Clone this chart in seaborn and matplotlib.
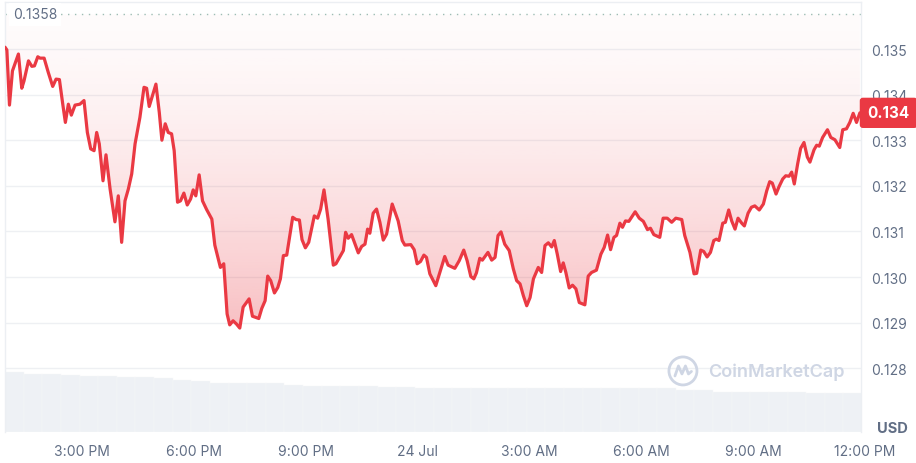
import matplotlib
matplotlib.use('Agg')
import matplotlib.pyplot as plt
import matplotlib.transforms as mtransforms
from matplotlib.colors import to_rgb
from matplotlib.patches import PathPatch, Ellipse
import seaborn as sns
import numpy as np
import pandas as pd

# price, hours counted from 23 Jul 00:00
hours = [
    12.93, 12.98, 13.05, 13.13, 13.29, 13.38, 13.44, 13.56, 13.65, 13.72,
    13.81, 13.87, 13.98, 14.09, 14.21, 14.30, 14.39, 14.48, 14.55, 14.63,
    14.71, 14.81, 14.94, 15.05, 15.14, 15.23, 15.32, 15.39, 15.46, 15.56,
    15.64, 15.75, 15.88, 15.97, 16.06, 16.15, 16.24, 16.33, 16.42, 16.55,
    16.66, 16.73, 16.80, 16.98, 17.07, 17.14, 17.23, 17.31, 17.40, 17.47,
    17.56, 17.64, 17.73, 17.82, 17.91, 17.98, 18.05, 18.14, 18.23, 18.34,
    18.48, 18.56, 18.65, 18.71, 18.80, 18.89, 18.96, 19.05, 19.14, 19.23,
    19.32, 19.48, 19.57, 19.74, 19.82, 19.91, 19.98, 20.06, 20.16, 20.25,
    20.32, 20.40, 20.49, 20.65, 20.74, 20.83, 20.90, 20.99, 21.08, 21.23,
    21.32, 21.40, 21.49, 21.60, 21.74, 21.81, 21.92, 22.01, 22.07, 22.14,
    22.23, 22.41, 22.50, 22.59, 22.66, 22.72, 22.81, 22.90, 22.99, 23.08,
    23.17, 23.32, 23.48, 23.59, 23.66, 23.82, 23.91, 23.99, 24.08, 24.17,
    24.24, 24.33, 24.49, 24.60, 24.73, 24.82, 25.00, 25.12, 25.24, 25.33,
    25.43, 25.51, 25.58, 25.67, 25.74, 25.89, 25.99, 26.08, 26.16, 26.24,
    26.34, 26.46, 26.57, 26.66, 26.75, 26.84, 26.93, 27.02, 27.11, 27.24,
    27.33, 27.42, 27.51, 27.60, 27.67, 27.75, 27.84, 27.91, 27.98, 28.07,
    28.16, 28.25, 28.34, 28.49, 28.58, 28.67, 28.80, 28.92, 29.01, 29.10,
    29.18, 29.27, 29.34, 29.43, 29.50, 29.58, 29.67, 29.84, 29.95, 30.06,
    30.17, 30.25, 30.34, 30.50, 30.59, 30.70, 30.82, 30.93, 31.09, 31.17,
    31.31, 31.42, 31.49, 31.60, 31.68, 31.77, 31.86, 31.95, 32.02, 32.09,
    32.19, 32.26, 32.35, 32.43, 32.52, 32.60, 32.70, 32.77, 32.87, 32.96,
    33.05, 33.17, 33.28, 33.37, 33.45, 33.52, 33.62, 33.70, 33.80, 33.88,
    33.97, 34.04, 34.11, 34.20, 34.28, 34.37, 34.46, 34.53, 34.64, 34.71,
    34.78, 34.87, 35.00, 35.09, 35.20, 35.33, 35.41, 35.51, 35.60, 35.69,
    35.78, 35.87,
]
price = [
    0.13504, 0.13498, 0.13377, 0.13452, 0.13489, 0.13414, 0.13430, 0.13474, 0.13462, 0.13463,
    0.13483, 0.13480, 0.13480, 0.13449, 0.13418, 0.13434, 0.13433, 0.13379, 0.13339, 0.13379,
    0.13355, 0.13377, 0.13379, 0.13387, 0.13317, 0.13281, 0.13277, 0.13317, 0.13292, 0.13211,
    0.13268, 0.13193, 0.13121, 0.13178, 0.13076, 0.13167, 0.13193, 0.13226, 0.13292, 0.13350,
    0.13416, 0.13414, 0.13374, 0.13423, 0.13361, 0.13300, 0.13336, 0.13317, 0.13314, 0.13277,
    0.13164, 0.13167, 0.13184, 0.13158, 0.13171, 0.13191, 0.13178, 0.13224, 0.13167, 0.13148,
    0.13127, 0.13070, 0.13040, 0.13021, 0.13029, 0.12919, 0.12895, 0.12904, 0.12897, 0.12888,
    0.12934, 0.12952, 0.12914, 0.12909, 0.12931, 0.12948, 0.13002, 0.12992, 0.12965, 0.12977,
    0.12996, 0.13047, 0.13048, 0.13131, 0.13126, 0.13125, 0.13082, 0.13064, 0.13076, 0.13134,
    0.13129, 0.13149, 0.13191, 0.13127, 0.13026, 0.13029, 0.13045, 0.13058, 0.13098, 0.13085,
    0.13093, 0.13053, 0.13067, 0.13072, 0.13105, 0.13096, 0.13140, 0.13149, 0.13120, 0.13081,
    0.13094, 0.13160, 0.13123, 0.13080, 0.13070, 0.13071, 0.13060, 0.13029, 0.13034, 0.13048,
    0.13043, 0.13007, 0.12981, 0.13010, 0.13045, 0.13026, 0.13019, 0.13036, 0.13059, 0.13036,
    0.13001, 0.12996, 0.13009, 0.13041, 0.13037, 0.13054, 0.13037, 0.13043, 0.13091, 0.13099,
    0.13072, 0.13058, 0.13018, 0.12992, 0.12985, 0.12959, 0.12937, 0.12955, 0.12996, 0.13021,
    0.13010, 0.13069, 0.13075, 0.13066, 0.13080, 0.13050, 0.13012, 0.13031, 0.13010, 0.12976,
    0.12982, 0.12974, 0.12944, 0.12939, 0.13002, 0.13010, 0.13015, 0.13050, 0.13065, 0.13092,
    0.13060, 0.13087, 0.13091, 0.13118, 0.13109, 0.13123, 0.13122, 0.13143, 0.13129, 0.13122,
    0.13104, 0.13107, 0.13093, 0.13087, 0.13129, 0.13129, 0.13120, 0.13129, 0.13126, 0.13091,
    0.13054, 0.13007, 0.13008, 0.13059, 0.13056, 0.13044, 0.13054, 0.13080, 0.13083, 0.13080,
    0.13118, 0.13120, 0.13147, 0.13123, 0.13105, 0.13129, 0.13118, 0.13112, 0.13140, 0.13153,
    0.13156, 0.13147, 0.13160, 0.13189, 0.13209, 0.13206, 0.13182, 0.13198, 0.13215, 0.13222,
    0.13221, 0.13230, 0.13204, 0.13248, 0.13282, 0.13295, 0.13263, 0.13252, 0.13279, 0.13289,
    0.13287, 0.13306, 0.13323, 0.13306, 0.13301, 0.13284, 0.13323, 0.13325, 0.13339, 0.13359,
    0.13339, 0.13360,
]
ref_price = 0.13576  # dotted line, shown as 0.1358

# volume, half-hour buckets (arbitrary units)
vol_hours = np.arange(13.18, 35.9, 0.5)
volume = [
    59.7, 58, 58, 57, 55.7, 55.7, 54.7, 54.7, 53.7, 52.3,
    50.7, 48.7, 48.7, 48.7, 48.7, 47.3, 46.3, 46.3, 46.3, 46.3,
    45, 45, 43.7, 43.7, 43.7, 43.7, 43.7, 43.7, 43.7, 43.7,
    43.7, 43.7, 43.7, 43.7, 43.7, 43.7, 42, 42, 39.7, 39.7,
    39.7, 39.7, 39.7, 38.7, 38.7, 38.7,
]

tick_hours = [15, 18, 21, 24, 27, 30, 33, 36]
tick_labels = ['3:00 PM', '6:00 PM', '9:00 PM', '24 Jul', '3:00 AM', '6:00 AM', '9:00 AM', '12:00 PM']
price_ticks = [0.128, 0.129, 0.130, 0.131, 0.132, 0.133, 0.134, 0.135]

RED = '#ea3943'
GREY = '#616e85'
LIGHT = '#eef0f3'
WATERMARK = '#cfd6e4'

sns.set_theme(style='white')
plt.rcParams['font.family'] = ['Inter', 'DejaVu Sans']

df = pd.DataFrame({'hours': hours, 'price': price})

fig = plt.figure(figsize=(9.16, 4.64), dpi=100)
ax = fig.add_axes([5 / 916, 31 / 464, 856 / 916, 430 / 464])

# volume bars in the background
ax2 = ax.twinx()
ax2.bar(vol_hours, volume, width=0.5, color='#eef1f5', edgecolor='#f6f7f9', linewidth=0.3)
ax2.set_ylim(0, 430)
ax2.set_yticks([])
for s in ax2.spines.values():
    s.set_visible(False)
ax.set_zorder(2)
ax.patch.set_visible(False)

# gradient fill between the line and the dotted reference
poly = ax.fill_between(df['hours'], df['price'], ref_price, color='none', lw=0)
clip = PathPatch(poly.get_paths()[0], transform=ax.transData, fc='none', ec='none')
ax.add_patch(clip)
t = np.linspace(0, 1, 256)[:, None]
grad = np.zeros((256, 1, 4))
grad[..., :3] = to_rgb(RED)
grad[..., 3] = 0.02 + 0.30 * t ** 1.5
im = ax.imshow(grad, extent=[hours[0], hours[-1], min(price), ref_price],
               aspect='auto', origin='upper', zorder=1)
im.set_clip_path(clip)

sns.lineplot(data=df, x='hours', y='price', ax=ax, color=RED, linewidth=2.3, zorder=3)
ax.axhline(ref_price, color='#9dbdb4', ls=(0, (1, 4)), lw=1, zorder=2)

ax.set_xlim(12.93, 35.9)
ax.set_ylim(0.126601, 0.136031)
ax.set_xlabel('')
ax.set_ylabel('')

# axes styling
ax.yaxis.tick_right()
ax.set_yticks(price_ticks)
ax.set_yticklabels([f'{v:.3f}' for v in price_ticks])
ax.yaxis.grid(True, color=LIGHT, lw=1)
ax.set_axisbelow(True)
ax.set_xticks(tick_hours[:-1])
ax.set_xticklabels(tick_labels[:-1])
ax.tick_params(axis='x', length=0, pad=9, labelsize=10, labelcolor=GREY)
ax.tick_params(axis='y', length=0, pad=7, labelsize=10, labelcolor=GREY)
for side in ['left', 'right', 'top']:
    ax.spines[side].set_color('#eceff3')
    ax.spines[side].set_linewidth(1)
ax.spines['bottom'].set_visible(False)

xtrans = mtransforms.blended_transform_factory(ax.transData, ax.transAxes)
ax.text(tick_hours[-1], -0.044, tick_labels[-1], transform=xtrans, ha='center', va='center',
        fontsize=10, color=GREY, clip_on=False)

ytrans = mtransforms.blended_transform_factory(ax.transAxes, ax.transData)
ax.text(0.009, ref_price, f'{ref_price:.4f}', transform=ytrans, ha='left', va='center',
        fontsize=10, color=GREY, zorder=4,
        bbox=dict(fc='white', ec='none', pad=3))

# last price tag
ax.annotate(f'{price[-1]:.3f}', xy=(1, price[-1]), xycoords=ytrans,
            xytext=(4.6, 0), textcoords='offset points', ha='left', va='center',
            fontsize=11, fontweight='bold', color='white', zorder=6, annotation_clip=False,
            bbox=dict(boxstyle='round,pad=0.5,rounding_size=0.2', fc=RED, ec='none'))

ax.text(1.0187, 0.009, 'USD', transform=ax.transAxes, ha='left', va='center',
        fontsize=10.5, fontweight='bold', color=GREY)

# watermark
logo_x, logo_y = 0.792, 0.142
ax.add_patch(Ellipse((logo_x, logo_y), 28 / 856, 28 / 430, transform=ax.transAxes,
                     fill=False, ec=WATERMARK, lw=2))
wave_dx = np.array([-8, -4.5, -1, 2.5, 5.5, 8.5]) / 856
wave_dy = np.array([-5, 5, -3, 5, -3, -0.5]) / 430
ax.plot(logo_x + wave_dx, logo_y + wave_dy, transform=ax.transAxes, color=WATERMARK,
        lw=2, solid_joinstyle='round', solid_capstyle='round')
ax.text(0.821, logo_y, 'CoinMarketCap', transform=ax.transAxes, ha='left', va='center',
        fontsize=13, fontweight='semibold', color=WATERMARK)

fig.savefig('out.png', dpi=100, facecolor='white')
